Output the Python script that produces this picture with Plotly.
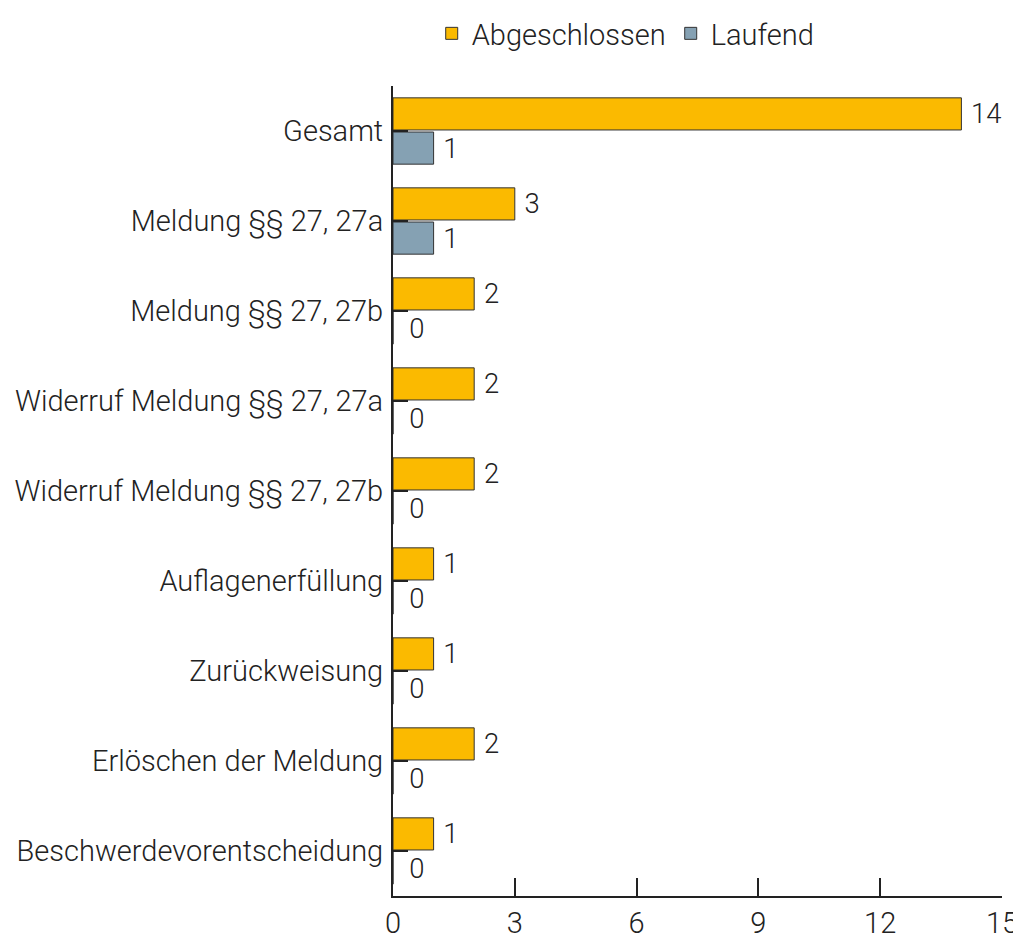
import plotly.graph_objects as go

categories = ["Gesamt", "Meldung §§ 27, 27a", "Meldung §§ 27, 27b",
              "Widerruf Meldung §§ 27, 27a", "Widerruf Meldung §§ 27, 27b",
              "Auflagenerfüllung", "Zurückweisung", "Erlöschen der Meldung",
              "Beschwerdevorentscheidung"]
abgeschlossen = [14, 3, 2, 2, 2, 1, 1, 2, 1]
laufend = [1, 1, 0, 0, 0, 0, 0, 0, 0]
x_ticks = [0, 3, 6, 9, 12, 15]

font = dict(family="Roboto", size=29, color="#222222", weight=300)

laufend_tpl = ["\u00a0%{x}" if v else "\u00a0\u00a0%{x}" for v in laufend]

fig = go.Figure()
fig.add_trace(go.Bar(y=categories, x=abgeschlossen, orientation="h", name="Abgeschlossen",
                     marker=dict(color="#FBBA00", line=dict(color="#333333", width=1)),
                     text=abgeschlossen, texttemplate="\u00a0%{x}", textposition="outside",
                     cliponaxis=False, textfont=font))
fig.add_trace(go.Bar(y=categories, x=laufend, orientation="h", name="Laufend",
                     marker=dict(color="#85A1B3", line=dict(color="#333333", width=1)),
                     text=laufend, texttemplate=laufend_tpl, textposition="outside",
                     cliponaxis=False, textfont=font))

fig.update_layout(
    width=1021, height=938,
    margin=dict(l=385, r=27, t=78, b=50, autoexpand=False),
    barmode="group", bargap=0.24, bargroupgap=0.06,
    plot_bgcolor="white", paper_bgcolor="white",
    font=font,
    legend=dict(orientation="h", x=0.605, xanchor="center", y=1.0, yanchor="top",
                yref="container", xref="container", font=font),
    xaxis=dict(range=[0, 15], tickvals=x_ticks, ticks="inside", ticklen=18, tickwidth=1.5,
               tickcolor="#222222", showline=True, linecolor="#222222", linewidth=2,
               showgrid=False, zeroline=False, tickfont=font, automargin=False),
    yaxis=dict(autorange="reversed", ticks="inside", ticklen=15, tickwidth=2,
               tickcolor="#222222", showline=True, linecolor="#222222", linewidth=2,
               showgrid=False, tickfont=font, ticklabelstandoff=2, automargin=False),
)

fig.write_html("out.html")
